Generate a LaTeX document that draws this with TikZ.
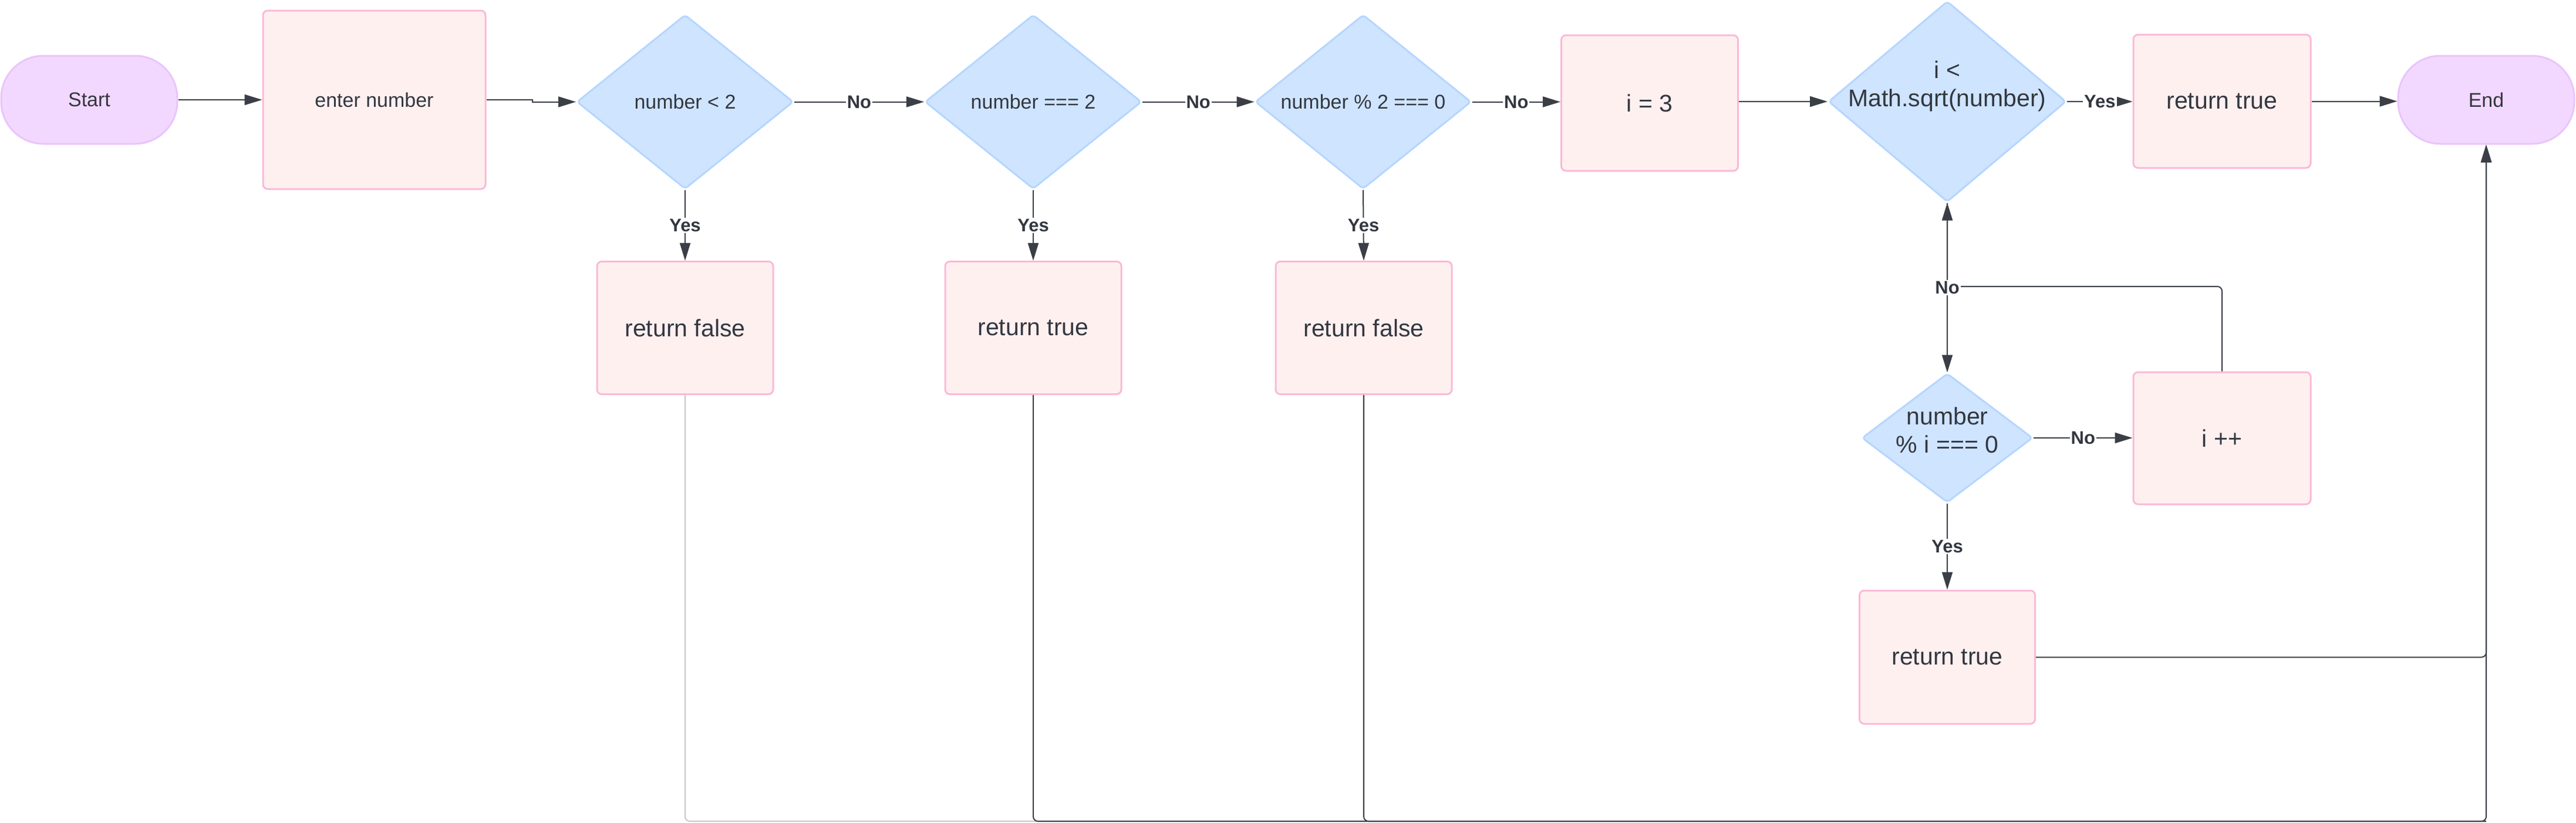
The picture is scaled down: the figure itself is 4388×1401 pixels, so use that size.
\documentclass[tikz,border=0pt]{standalone}
\usepackage{fontspec}
\setmainfont{Liberation Sans}
\usetikzlibrary{shapes.geometric,arrows.meta,calc}
\definecolor{linec}{HTML}{3A3E46}
\definecolor{lightc}{HTML}{C8C8C8}
\definecolor{txt}{HTML}{333740}
\definecolor{termf}{HTML}{F2D8FE}
\definecolor{termd}{HTML}{EAC4FC}
\definecolor{procf}{HTML}{FFF0F0}
\definecolor{procd}{HTML}{FBB9D6}
\definecolor{decf}{HTML}{CFE4FF}
\definecolor{decd}{HTML}{B5D6FF}
\newcommand\fsA{\fontsize{34}{40}\selectfont}
\newcommand\fsB{\fontsize{41}{48}\selectfont}
\newcommand\fsL{\fontsize{31}{36}\selectfont}
\begin{document}
\begin{tikzpicture}[x=1pt,y=-1pt,
  termbox/.style={draw=termd, fill=termf, line width=3pt, rounded corners=72pt,
    minimum width=300pt, minimum height=150pt, font=\fsA, text=txt, inner sep=0pt},
  procbox/.style={draw=procd, fill=procf, line width=3pt, rounded corners=8pt,
    minimum width=300pt, minimum height=226pt, font=\fsB, text=txt, inner sep=0pt},
  decbox/.style={diamond, draw=decd, fill=decf, line width=3pt, rounded corners=6pt,
    inner sep=0pt},
  dtext/.style={font=\fsA, text=txt, align=center, inner sep=0pt},
  conn/.style={draw=linec, line width=2pt},
  arr/.style={conn, -{Triangle[length=30pt,width=18pt]}},
  lab/.style={fill=white, font=\fsL\bfseries, text=txt, inner sep=2pt}]
\useasboundingbox (0,0) rectangle (4388,1401);

% terminals
\node[termbox] (start) at (152,170) {Start};
\node[termbox] (end) at (4235,170) {End};

% process boxes
\node[procbox, minimum width=379pt, minimum height=304pt, font=\fsA] (enter) at (637.5,170) {enter number};
\node[procbox] (rf1) at (1167,558.5) {return false};
\node[procbox] (rt1) at (1760,558.5) {return true};
\node[procbox] (rf2) at (2323,558.5) {return false};
\node[procbox, minimum width=301pt, minimum height=231pt] (i3) at (2810,175.5) {i = 3};
\node[procbox, minimum width=302pt, minimum height=227pt] (rt2) at (3785,172.5) {return true};
\node[procbox, minimum width=302pt, minimum height=225pt] (ipp) at (3785,746.5) {i ++};
\node[procbox, minimum width=299pt, minimum height=227pt] (rt3) at (3317,1119.5) {return true};

% decisions
\node[decbox, minimum width=369pt, minimum height=297pt,
  label={[dtext]center:number < 2}] (d1) at (1167,173.5) {};
\node[decbox, minimum width=369pt, minimum height=297pt,
  label={[dtext]center:number === 2}] (d2) at (1760,173.5) {};
\node[decbox, minimum width=368pt, minimum height=297pt,
  label={[dtext]center:number \% 2 === 0}] (d3) at (2322,173.5) {};
\node[decbox, minimum width=405pt, minimum height=342pt,
  label={[dtext, font=\fsB, yshift=26pt]center:i <\\Math.sqrt(number)}] (d4) at (3317,173) {};
\node[decbox, minimum width=291pt, minimum height=220pt,
  label={[dtext, font=\fsB, yshift=13pt, text depth=0pt]center:number\\\% i === 0}] (d5) at (3317,746) {};

% main flow
\draw[arr] (start.east) -- (start.east -| enter.west);
\draw[arr] (enter.east) -- ++(78,0) |- (d1.west);
\draw[arr] (d1.east) -- node[lab]{No} (d2.west);
\draw[arr] (d2.east) -- node[lab]{No} (d3.west);
\draw[arr] (d3.east) -- node[lab]{No} (d3.east -| i3.west);
\draw[arr] (d4.west -| i3.east) -- (d4.west);
\draw[arr] (d4.east) -- node[lab]{Yes} (d4.east -| rt2.west);
\draw[arr] (rt2.east) -- (rt2.east -| end.west);

% yes branches
\draw[arr] (d1.south) -- node[lab]{Yes} (rf1.north);
\draw[arr] (d2.south) -- node[lab]{Yes} (rt1.north);
\draw[arr] (d3.south) -- node[lab]{Yes} (rf2.north);

% loop
\coordinate (lp) at (0,488);
\draw[arr, rounded corners=8pt] (ipp.north) |- (d4.south |- lp) -- (d4.south);
\draw[arr] (d4.south) -- node[lab]{No} (d5.north);
\draw[arr] (d5.east) -- node[lab]{No} (d5.east -| ipp.west);
\draw[arr] (d5.south) -- node[lab]{Yes} (rt3.north);

% returns to End
\coordinate (bl) at (0,1399);
\draw[conn, draw=lightc, rounded corners=8pt] (rf1.south) |- (end.south |- bl);
\draw[conn, rounded corners=8pt] (rt1.south) |- (end.south |- bl);
\draw[arr, rounded corners=8pt] (rf2.south) |- (end.south |- bl) -- (end.south);
\draw[arr, rounded corners=8pt] (rt3.east) -| (end.south);
\end{tikzpicture}
\end{document}
